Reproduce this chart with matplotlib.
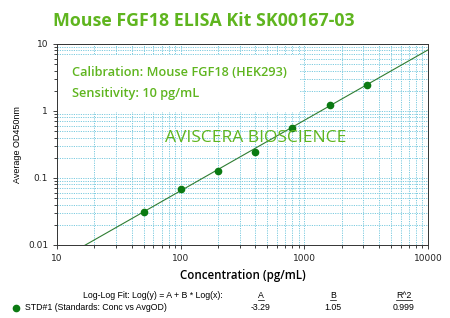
import numpy as np
import matplotlib
matplotlib.use("Agg")
from matplotlib import pyplot as plt
from matplotlib.ticker import LogLocator, FixedFormatter, FixedLocator

conc = [50, 100, 200, 400, 800, 1600, 3200]          # pg/mL
od = [0.031, 0.0686, 0.127, 0.244, 0.557, 1.23, 2.44]  # average OD450
fit_a = -3.29
fit_b = 1.05
fit_r2 = 0.999
xticks = [10, 100, 1000, 10000]
yticks = [0.01, 0.1, 1, 10]

green_txt = "#5fb51f"
pt_green = "#0b7a12"
line_green = "#2f7d32"
grid_c = "#7ccbe0"

fig = plt.figure(figsize=(4.5, 3.18), dpi=100)
ax = fig.add_axes([0.127, 0.2296, 0.824, 0.6324])

ax.set_xscale("log")
ax.set_yscale("log")
ax.set_xlim(10, 10000)
ax.set_ylim(0.01, 10)

# fit line
xf = np.logspace(1, 4, 200)
yf = 10 ** (fit_a + fit_b * np.log10(xf))
ax.plot(xf, yf, color=line_green, lw=0.8, zorder=3)
ax.plot(conc, od, "o", color=pt_green, ms=4.5, zorder=4)

ax.grid(True, which="both", color=grid_c, ls=(0, (1.2, 1.2)), lw=0.7)
ax.xaxis.set_major_locator(FixedLocator(xticks))
ax.xaxis.set_major_formatter(FixedFormatter([str(v) for v in xticks]))
ax.yaxis.set_major_locator(FixedLocator(yticks))
ax.yaxis.set_major_formatter(FixedFormatter(["0.01", "0.1", "1", "10"]))
ax.xaxis.set_minor_locator(LogLocator(subs=np.arange(2, 10)))
ax.yaxis.set_minor_locator(LogLocator(subs=np.arange(2, 10)))
ax.tick_params(which="both", labelsize=6.5, length=3, width=0.6, colors="#222222")
ax.tick_params(which="minor", length=2)
for s in ax.spines.values():
    s.set_linewidth(0.7)
    s.set_color("#333333")

ax.set_ylabel("Average OD450nm", fontsize=6.5, family="Liberation Sans", labelpad=4)
ax.set_xlabel("Concentration (pg/mL)", fontsize=8.3, family="Open Sans",
              fontweight="semibold", labelpad=4)

# white box with calibration info
ax.add_patch(plt.Rectangle((0.003, 0.662), 0.652, 0.283, transform=ax.transAxes,
                           facecolor="white", edgecolor="none", zorder=5))
ax.text(0.040, 0.856, "Calibration: Mouse FGF18 (HEK293)", transform=ax.transAxes,
        fontsize=9.2, family="Open Sans", fontweight="semibold", color=green_txt,
        va="center", ha="left", zorder=6)
ax.text(0.040, 0.751, "Sensitivity: 10 pg/mL", transform=ax.transAxes,
        fontsize=9.2, family="Open Sans", fontweight="semibold", color=green_txt,
        va="center", ha="left", zorder=6)
ax.text(0.536, 0.532, "AVISCERA BIOSCIENCE", transform=ax.transAxes, fontsize=12.5,
        family="Open Sans", color=green_txt, ha="center", va="center", zorder=5)

fig.text(0.118, 1 - 21 / 318, "Mouse FGF18 ELISA Kit SK00167-03", fontsize=12.8,
         family="Open Sans", fontweight="bold", color=green_txt, va="center")

# fit table under the chart
fs = 6.3
fig.text(223 / 450, 1 - 295 / 318, "Log-Log Fit: Log(y) = A + B * Log(x):", fontsize=fs,
         family="Liberation Sans", ha="right", va="center")
cols = [261 / 450, 333 / 450, 404 / 450]
for cx, h, v in zip(cols, ["A", "B", "R^2"], [f"{fit_a:.2f}", f"{fit_b:.2f}", f"{fit_r2:.3f}"]):
    fig.text(cx, 1 - 295 / 318, h, fontsize=fs, family="Liberation Sans",
             ha="center", va="center")
    fig.text(cx, 1 - 308 / 318, v, fontsize=fs, family="Liberation Sans",
             ha="center", va="center")
fig.canvas.draw()
r = fig.canvas.get_renderer()
for t in fig.texts:
    if t.get_text() in ("A", "B", "R^2"):
        bb = t.get_window_extent(r).transformed(fig.transFigure.inverted())
        fig.add_artist(plt.Line2D([bb.x0, bb.x1], [bb.y0 - 0.001, bb.y0 - 0.001],
                                  color="black", lw=0.5, transform=fig.transFigure))
fig.add_artist(plt.Line2D([16 / 450], [1 - 308 / 318], marker="o", color=pt_green,
                          ms=4.5, transform=fig.transFigure))
fig.text(25 / 450, 1 - 308 / 318, "STD#1 (Standards: Conc vs AvgOD)", fontsize=fs,
         family="Liberation Sans", va="center")

fig.savefig("out.png", dpi=100)
